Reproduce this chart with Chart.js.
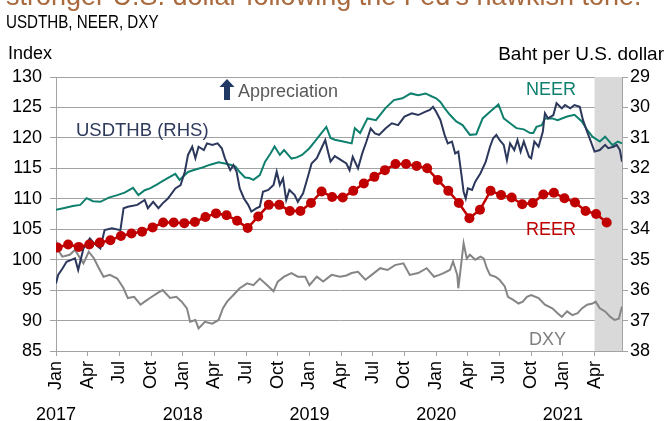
<!DOCTYPE html>
<html>
<head>
<meta charset="utf-8">
<script src="https://cdn.jsdelivr.net/npm/chart.js@4.4.1/dist/chart.umd.min.js"></script>
<style>
  html, body { margin: 0; padding: 0; background: #fff; }
  #wrap { position: relative; width: 669px; height: 421px; overflow: hidden; font-family: "Liberation Sans", Arial, sans-serif; }
  #wrap canvas { position: absolute; left: 0; top: 0; }
  .txt { position: absolute; white-space: nowrap; line-height: 1; }
  .narrow { transform: scaleX(0.82); transform-origin: left top; }
</style>
</head>
<body>
<div id="wrap">
  <canvas id="chart" width="669" height="421"></canvas>
  <div class="txt" style="left:6px; top:-17px; font-size:27px; color:#a96a3e;">stronger U.S. dollar following the Fed's hawkish tone.</div>
  <div class="txt narrow" style="left:6px; top:13px; font-size:18.5px; color:#000;">USDTHB, NEER, DXY</div>
  <div class="txt" style="left:8px; top:44px; font-size:18px; color:#000;">Index</div>
  <div class="txt" style="right:5px; top:44px; font-size:19px; color:#000;">Baht per U.S. dollar</div>
  <div class="txt" style="left:238px; top:82px; font-size:18px; color:#595959;">Appreciation</div>
  <div class="txt" style="left:76px; top:121px; font-size:18.5px; color:#2e3a5c;">USDTHB (RHS)</div>
  <div class="txt" style="left:526px; top:80px; font-size:18px; color:#0f806e;">NEER</div>
  <div class="txt" style="left:526px; top:220px; font-size:18px; color:#c00000;">REER</div>
  <div class="txt" style="left:529px; top:330px; font-size:18px; color:#7f7f7f;">DXY</div>
</div>
<script>
// x values are months since Jan 2017
const monthNames = ["Jan", "Apr", "Jul", "Oct"];
const monthTicks = [0, 3, 6, 9, 12, 15, 18, 21, 24, 27, 30, 33, 36, 39, 42, 45, 48, 51];
const yearLabels = ["2017", "2018", "2019", "2020", "2021"];
const shadeStart = 51; // Apr 2021
const xEnd = 53.6;

// NEER, index (LHS)
const neer = [
  [0,108.2],[0.8,108.5],[1.6,108.8],[2.3,109.0],[2.9,110.1],[3.5,109.6],[4.2,109.5],[5.0,110.2],[5.8,110.6],
  [6.5,111.0],[7.3,111.8],[7.8,110.6],[8.4,111.4],[8.9,111.7],[9.5,112.3],[10.0,112.8],[10.7,113.5],[11.3,114.1],
  [11.7,113.1],[12.5,114.4],[13.2,114.8],[13.8,115.1],[14.6,115.6],[15.4,116.0],[16.0,115.8],[16.5,115.6],[17.0,115.3],
  [17.4,114.4],[17.9,113.5],[18.3,113.4],[18.7,113.1],[19.3,113.9],[19.8,116.1],[20.3,117.4],[20.7,118.6],[21.2,117.2],
  [21.6,118.0],[22.3,116.6],[22.8,116.8],[23.3,117.2],[24.0,118.3],[24.5,119.4],[25.0,120.5],[25.6,121.8],[26.0,120.0],
  [26.4,119.7],[27.2,119.4],[28.0,119.1],[28.3,121.6],[28.8,120.8],[29.5,123.2],[30.3,122.9],[31.2,124.9],[32.0,126.2],
  [32.8,126.5],[33.6,127.3],[34.3,127.0],[35.0,127.3],[35.6,126.8],[36.0,126.5],[36.4,125.9],[36.8,124.9],[37.3,123.8],
  [37.9,122.7],[38.5,122.1],[39.2,120.5],[39.8,120.6],[40.4,123.2],[41.1,124.3],[41.9,125.5],[42.4,123.2],[43.0,122.4],
  [43.6,121.6],[44.3,121.4],[44.9,120.8],[45.2,120.8],[45.5,121.8],[46.0,122.1],[46.3,123.2],[47.0,123.2],[47.5,122.9],
  [48.4,123.5],[49.1,123.8],[49.8,122.7],[50.3,121.3],[50.8,120.2],[51.5,119.4],[52.0,120.2],[52.7,118.8],[53.2,119.4],
  [53.6,119.1]
];

// USDTHB, baht per dollar (RHS, inverted)
const usdthb = [
  [0,35.78],[0.2,35.5],[0.6,35.3],[1.0,35.07],[1.5,35.0],[1.8,34.96],[2.1,35.34],[2.6,34.63],[3.2,34.3],[3.6,34.46],
  [4.2,34.63],[4.6,34.03],[5.3,33.97],[6.1,34.03],[6.4,33.31],[6.8,33.26],[7.7,33.2],[8.4,33.04],[8.7,33.31],[9.2,33.1],
  [9.7,33.31],[10.1,33.15],[10.6,32.99],[11.3,32.66],[11.8,32.55],[12.2,32.11],[12.5,31.56],[12.9,31.29],[13.2,31.67],
  [13.5,31.29],[14.0,31.4],[14.3,31.18],[14.8,31.23],[15.3,31.18],[15.7,31.34],[16.0,31.67],[16.5,32.06],[16.8,31.89],
  [17.1,32.11],[17.4,32.66],[17.8,32.99],[18.2,33.2],[18.5,33.42],[19.0,33.31],[19.3,33.26],[19.6,32.77],[20.1,32.71],
  [20.6,32.55],[20.9,32.11],[21.2,32.55],[21.5,32.33],[21.8,33.04],[22.1,32.71],[22.6,32.88],[22.9,33.1],[23.4,32.82],
  [23.9,32.22],[24.2,31.84],[24.7,31.67],[25.2,31.29],[25.5,31.07],[25.8,31.51],[26.0,31.78],[26.4,31.6],[27.0,31.73],
  [27.5,31.84],[27.8,32.06],[28.1,31.62],[28.6,32.0],[29.0,31.51],[29.4,31.12],[29.8,30.69],[30.2,30.85],[30.6,30.9],
  [31.2,30.69],[31.8,30.52],[32.4,30.58],[33.0,30.3],[33.7,30.19],[34.3,30.25],[35.0,30.14],[35.4,30.08],[35.7,29.98],
  [36.0,30.14],[36.4,30.41],[36.8,30.9],[37.1,31.18],[37.5,31.12],[37.8,31.51],[38.1,31.45],[38.4,32.22],[38.6,32.77],
  [38.8,32.99],[39.0,32.66],[39.4,32.71],[39.7,32.44],[40.2,32.16],[40.7,31.78],[41.1,31.29],[41.4,31.01],[41.7,30.9],
  [42.0,31.07],[42.4,31.23],[42.7,31.73],[43.0,31.18],[43.4,31.4],[43.7,31.07],[44.0,31.45],[44.3,31.12],[44.8,31.62],
  [45.0,31.67],[45.3,31.12],[45.7,31.29],[46.1,30.8],[46.3,30.19],[46.6,30.36],[47.1,30.25],[47.4,29.86],[47.9,30.03],
  [48.2,29.92],[48.7,30.03],[49.1,29.92],[49.6,29.98],[49.9,30.41],[50.3,30.8],[50.6,31.07],[51.0,31.45],[51.5,31.4],
  [52.0,31.23],[52.3,31.34],[52.8,31.29],[53.1,31.23],[53.4,31.4],[53.6,31.78]
];

// DXY, index (LHS)
const dxy = [
  [0,103.2],[0.3,101.3],[0.6,100.5],[1.3,100.8],[1.8,101.6],[2.3,100.2],[2.6,99.4],[3.1,101.3],[3.6,100.2],[4.0,98.8],
  [4.5,97.2],[5.1,97.5],[5.8,96.9],[6.4,95.3],[6.8,93.7],[7.4,93.9],[8.0,92.6],[8.4,93.1],[8.9,93.7],[9.6,94.5],
  [10.1,95.0],[10.8,93.7],[11.4,93.9],[11.9,93.1],[12.4,92.0],[12.7,89.8],[13.2,90.1],[13.5,88.7],[14.1,89.8],[14.8,89.5],
  [15.4,90.1],[15.8,92.0],[16.2,93.1],[16.8,94.2],[17.4,95.3],[18.1,96.1],[18.7,95.8],[19.3,96.9],[20.0,95.8],[20.6,94.8],
  [21.0,96.4],[21.6,97.2],[22.3,97.8],[22.9,97.2],[23.6,97.2],[24.0,95.8],[24.7,97.2],[25.3,96.4],[26.1,97.5],[26.9,97.2],
  [27.5,97.4],[28.0,97.8],[28.6,98.0],[29.3,96.7],[29.9,97.5],[30.7,98.6],[31.4,98.3],[32.1,99.1],[32.9,99.4],[33.5,97.5],
  [34.3,97.8],[35.1,98.6],[35.8,97.2],[36.3,97.5],[36.7,97.8],[37.3,98.3],[37.6,99.7],[38.0,97.5],[38.1,95.3],[38.4,99.7],
  [38.6,102.7],[38.9,100.2],[39.2,100.8],[39.7,100.0],[40.2,100.5],[40.5,100.2],[40.8,98.6],[41.1,97.5],[41.6,97.2],
  [42.0,96.7],[42.5,95.6],[42.8,93.9],[43.3,93.4],[43.8,92.8],[44.2,93.1],[44.6,93.9],[45.0,94.2],[45.7,93.7],[46.3,92.6],
  [47.0,92.0],[47.5,91.2],[47.9,90.6],[48.4,91.5],[48.9,90.9],[49.4,91.2],[49.8,92.0],[50.3,92.6],[50.8,92.8],[51.1,93.1],
  [51.5,92.0],[52.0,91.5],[52.5,90.6],[52.9,90.1],[53.3,90.3],[53.6,92.3]
];

// REER, monthly from Jan 2017 (LHS)
const reer = [
  102.0,102.5,102.1,102.5,102.8,103.2,103.9,104.3,104.6,105.3,106.1,106.1,
  106.0,106.2,107.0,107.6,107.3,106.4,105.2,107.1,109.0,109.0,108.0,108.0,
  109.3,111.2,110.3,110.2,111.3,112.5,113.6,114.7,115.7,115.7,115.4,115.0,
  113.1,111.3,109.3,106.8,108.2,111.3,110.6,110.2,109.1,109.3,110.7,111.0,
  110.1,109.4,108.0,107.5,106.1
];
const reerOffset = 0.15;

const gridColor = "#a3a3a3";
Chart.defaults.font.family = "'Liberation Sans', Arial, sans-serif";
Chart.defaults.color = "#000";

const shadePlugin = {
  id: "shade",
  beforeDatasetsDraw(chart) {
    const { ctx, chartArea, scales } = chart;
    const x0 = scales.x.getPixelForValue(shadeStart);
    ctx.save();
    ctx.fillStyle = "#d9d9d9";
    ctx.fillRect(x0, chartArea.top, chartArea.right - x0, chartArea.bottom - chartArea.top);
    ctx.restore();
  }
};

const extrasPlugin = {
  id: "extras",
  afterDraw(chart) {
    const { ctx, scales } = chart;
    ctx.save();
    // year labels under the January ticks
    ctx.font = "18px 'Liberation Sans', Arial, sans-serif";
    ctx.fillStyle = "#000";
    ctx.textAlign = "center";
    ctx.textBaseline = "alphabetic";
    yearLabels.forEach((yr, i) => {
      ctx.fillText(yr, scales.x.getPixelForValue(i * 12), 420);
    });
    // appreciation arrow
    const ax = 227;
    ctx.fillStyle = "#1f3864";
    ctx.beginPath();
    ctx.moveTo(ax, 79);
    ctx.lineTo(ax + 7.5, 87);
    ctx.lineTo(ax + 3, 87);
    ctx.lineTo(ax + 3, 100);
    ctx.lineTo(ax - 3, 100);
    ctx.lineTo(ax - 3, 87);
    ctx.lineTo(ax - 7.5, 87);
    ctx.closePath();
    ctx.fill();
    ctx.restore();
  }
};

const toPoints = arr => arr.map(([x, y]) => ({ x, y }));

new Chart(document.getElementById("chart"), {
  type: "line",
  data: {
    datasets: [
      {
        label: "REER",
        data: reer.map((v, i) => ({ x: i + reerOffset, y: v })),
        yAxisID: "y",
        borderColor: "#c00000",
        backgroundColor: "#c00000",
        borderWidth: 2.5,
        pointRadius: 5,
        pointBorderWidth: 0
      },
      {
        label: "USDTHB",
        data: toPoints(usdthb),
        yAxisID: "y2",
        borderColor: "#2b375b",
        borderWidth: 2,
        pointRadius: 0
      },
      {
        label: "NEER",
        data: toPoints(neer),
        yAxisID: "y",
        borderColor: "#0f806e",
        borderWidth: 2,
        pointRadius: 0
      },
      {
        label: "DXY",
        data: toPoints(dxy),
        yAxisID: "y",
        borderColor: "#858585",
        borderWidth: 2,
        pointRadius: 0
      }
    ]
  },
  options: {
    responsive: false,
    animation: false,
    devicePixelRatio: 1,
    layout: { padding: { top: 77, left: 0, right: 0, bottom: 0 } },
    plugins: { legend: { display: false }, tooltip: { enabled: false } },
    scales: {
      x: {
        type: "linear",
        min: 0,
        max: xEnd,
        afterBuildTicks: s => { s.ticks = monthTicks.map(v => ({ value: v })); },
        afterFit: s => { s.height = 70; },
        grid: { drawOnChartArea: false, tickLength: 5, color: gridColor },
        border: { color: gridColor },
        ticks: {
          autoSkip: false,
          minRotation: 90,
          maxRotation: 90,
          padding: 5,
          font: { size: 18 },
          callback: v => monthNames[(v % 12) / 3]
        }
      },
      y: {
        position: "left",
        min: 85,
        max: 130,
        afterFit: s => { s.width = 56; },
        grid: { color: gridColor, tickLength: 6 },
        border: { color: gridColor },
        ticks: { stepSize: 5, padding: 8, font: { size: 18 } }
      },
      y2: {
        position: "right",
        reverse: true,
        min: 29,
        max: 38,
        afterFit: s => { s.width = 47; },
        grid: { drawOnChartArea: false, tickLength: 6, color: gridColor },
        border: { color: gridColor },
        ticks: { stepSize: 1, padding: 2, font: { size: 18 } }
      }
    }
  },
  plugins: [shadePlugin, extrasPlugin]
});
</script>
</body>
</html>
